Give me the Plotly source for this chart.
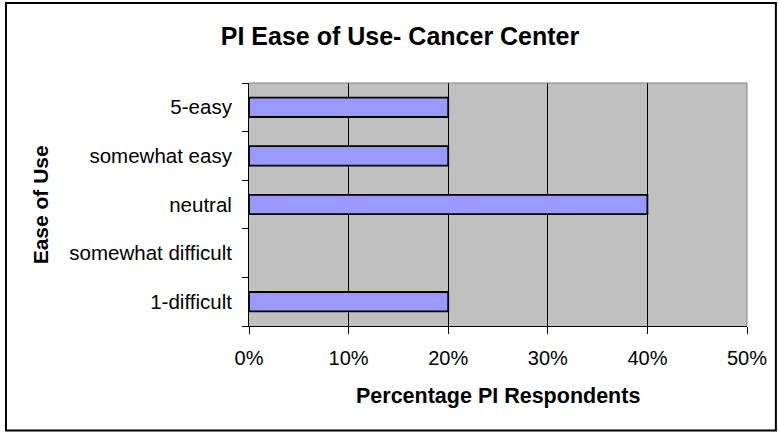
import plotly.graph_objects as go

# Ease-of-use categories, bottom to top as drawn
categories = ['1-difficult', 'somewhat difficult', 'neutral', 'somewhat easy', '5-easy']
percent_respondents = [20, 0, 40, 20, 20]
x_ticks = [0, 10, 20, 30, 40, 50]
x_tick_labels = ['0%', '10%', '20%', '30%', '40%', '50%']

font_family = 'Liberation Sans, Arial, sans-serif'

# no outline on empty bars so nothing shows at 0%
outline_widths = [1.8 if v > 0 else 0 for v in percent_respondents]

fig = go.Figure(
    data=go.Bar(
        x=percent_respondents,
        y=categories,
        orientation='h',
        marker=dict(
            color='#9999FF',
            line=dict(color='black', width=outline_widths),
        ),
        hovertemplate='%{y}: %{x}%<extra></extra>',
    )
)

fig.update_layout(
    width=779,
    height=432,
    margin=dict(l=249, r=32, t=83, b=106),
    paper_bgcolor='white',
    plot_bgcolor='#C0C0C0',
    bargap=0.6,
    showlegend=False,
    font=dict(family=font_family, color='black', size=20),
    title=dict(
        text='<b>PI Ease of Use- Cancer Center</b>',
        font=dict(size=25, color='black'),
        xref='container',
        x=0.5135,
        xanchor='center',
        yref='container',
        y=0.9155,
        yanchor='middle',
    ),
    xaxis=dict(
        range=[0, 50],
        tickvals=x_ticks,
        ticktext=x_tick_labels,
        showgrid=True,
        gridcolor='black',
        gridwidth=1,
        zeroline=False,
        showline=True,
        linecolor='black',
        linewidth=1,
        ticks='outside',
        ticklen=7,
        tickcolor='black',
        tickfont=dict(size=20),
        ticklabelstandoff=7,
        fixedrange=True,
    ),
    yaxis=dict(
        categoryorder='array',
        categoryarray=categories,
        showgrid=False,
        zeroline=False,
        showline=True,
        linecolor='black',
        linewidth=1,
        ticks='outside',
        tickson='boundaries',
        ticklen=6,
        tickcolor='black',
        tickfont=dict(size=20.5),
        ticklabelstandoff=12,
        fixedrange=True,
    ),
    annotations=[
        dict(
            text='<b>Percentage PI Respondents</b>',
            xref='paper', yref='paper',
            x=0.5, y=-0.29,
            xanchor='center', yanchor='middle',
            showarrow=False,
            font=dict(size=21.5),
        ),
        dict(
            text='<b>Ease of Use</b>',
            xref='paper', yref='paper',
            x=-0.418, y=0.5,
            xanchor='center', yanchor='middle',
            textangle=-90,
            showarrow=False,
            font=dict(size=21),
        ),
    ],
    shapes=[
        # gray top and right edges of the plot area
        dict(type='line', xref='paper', yref='paper', x0=0, x1=1, y0=1, y1=1,
             line=dict(color='#808080', width=1)),
        dict(type='line', xref='paper', yref='paper', x0=1, x1=1, y0=0, y1=1,
             line=dict(color='#808080', width=1)),
        # outer chart border
        dict(type='rect', xref='paper', yref='paper',
             x0=-0.488, x1=1.058, y0=-0.430, y1=1.329,
             line=dict(color='black', width=2)),
    ],
)

fig.write_html(
    'out.html',
    config={'displayModeBar': False},
    post_script="document.body.style.margin='0';",
)
